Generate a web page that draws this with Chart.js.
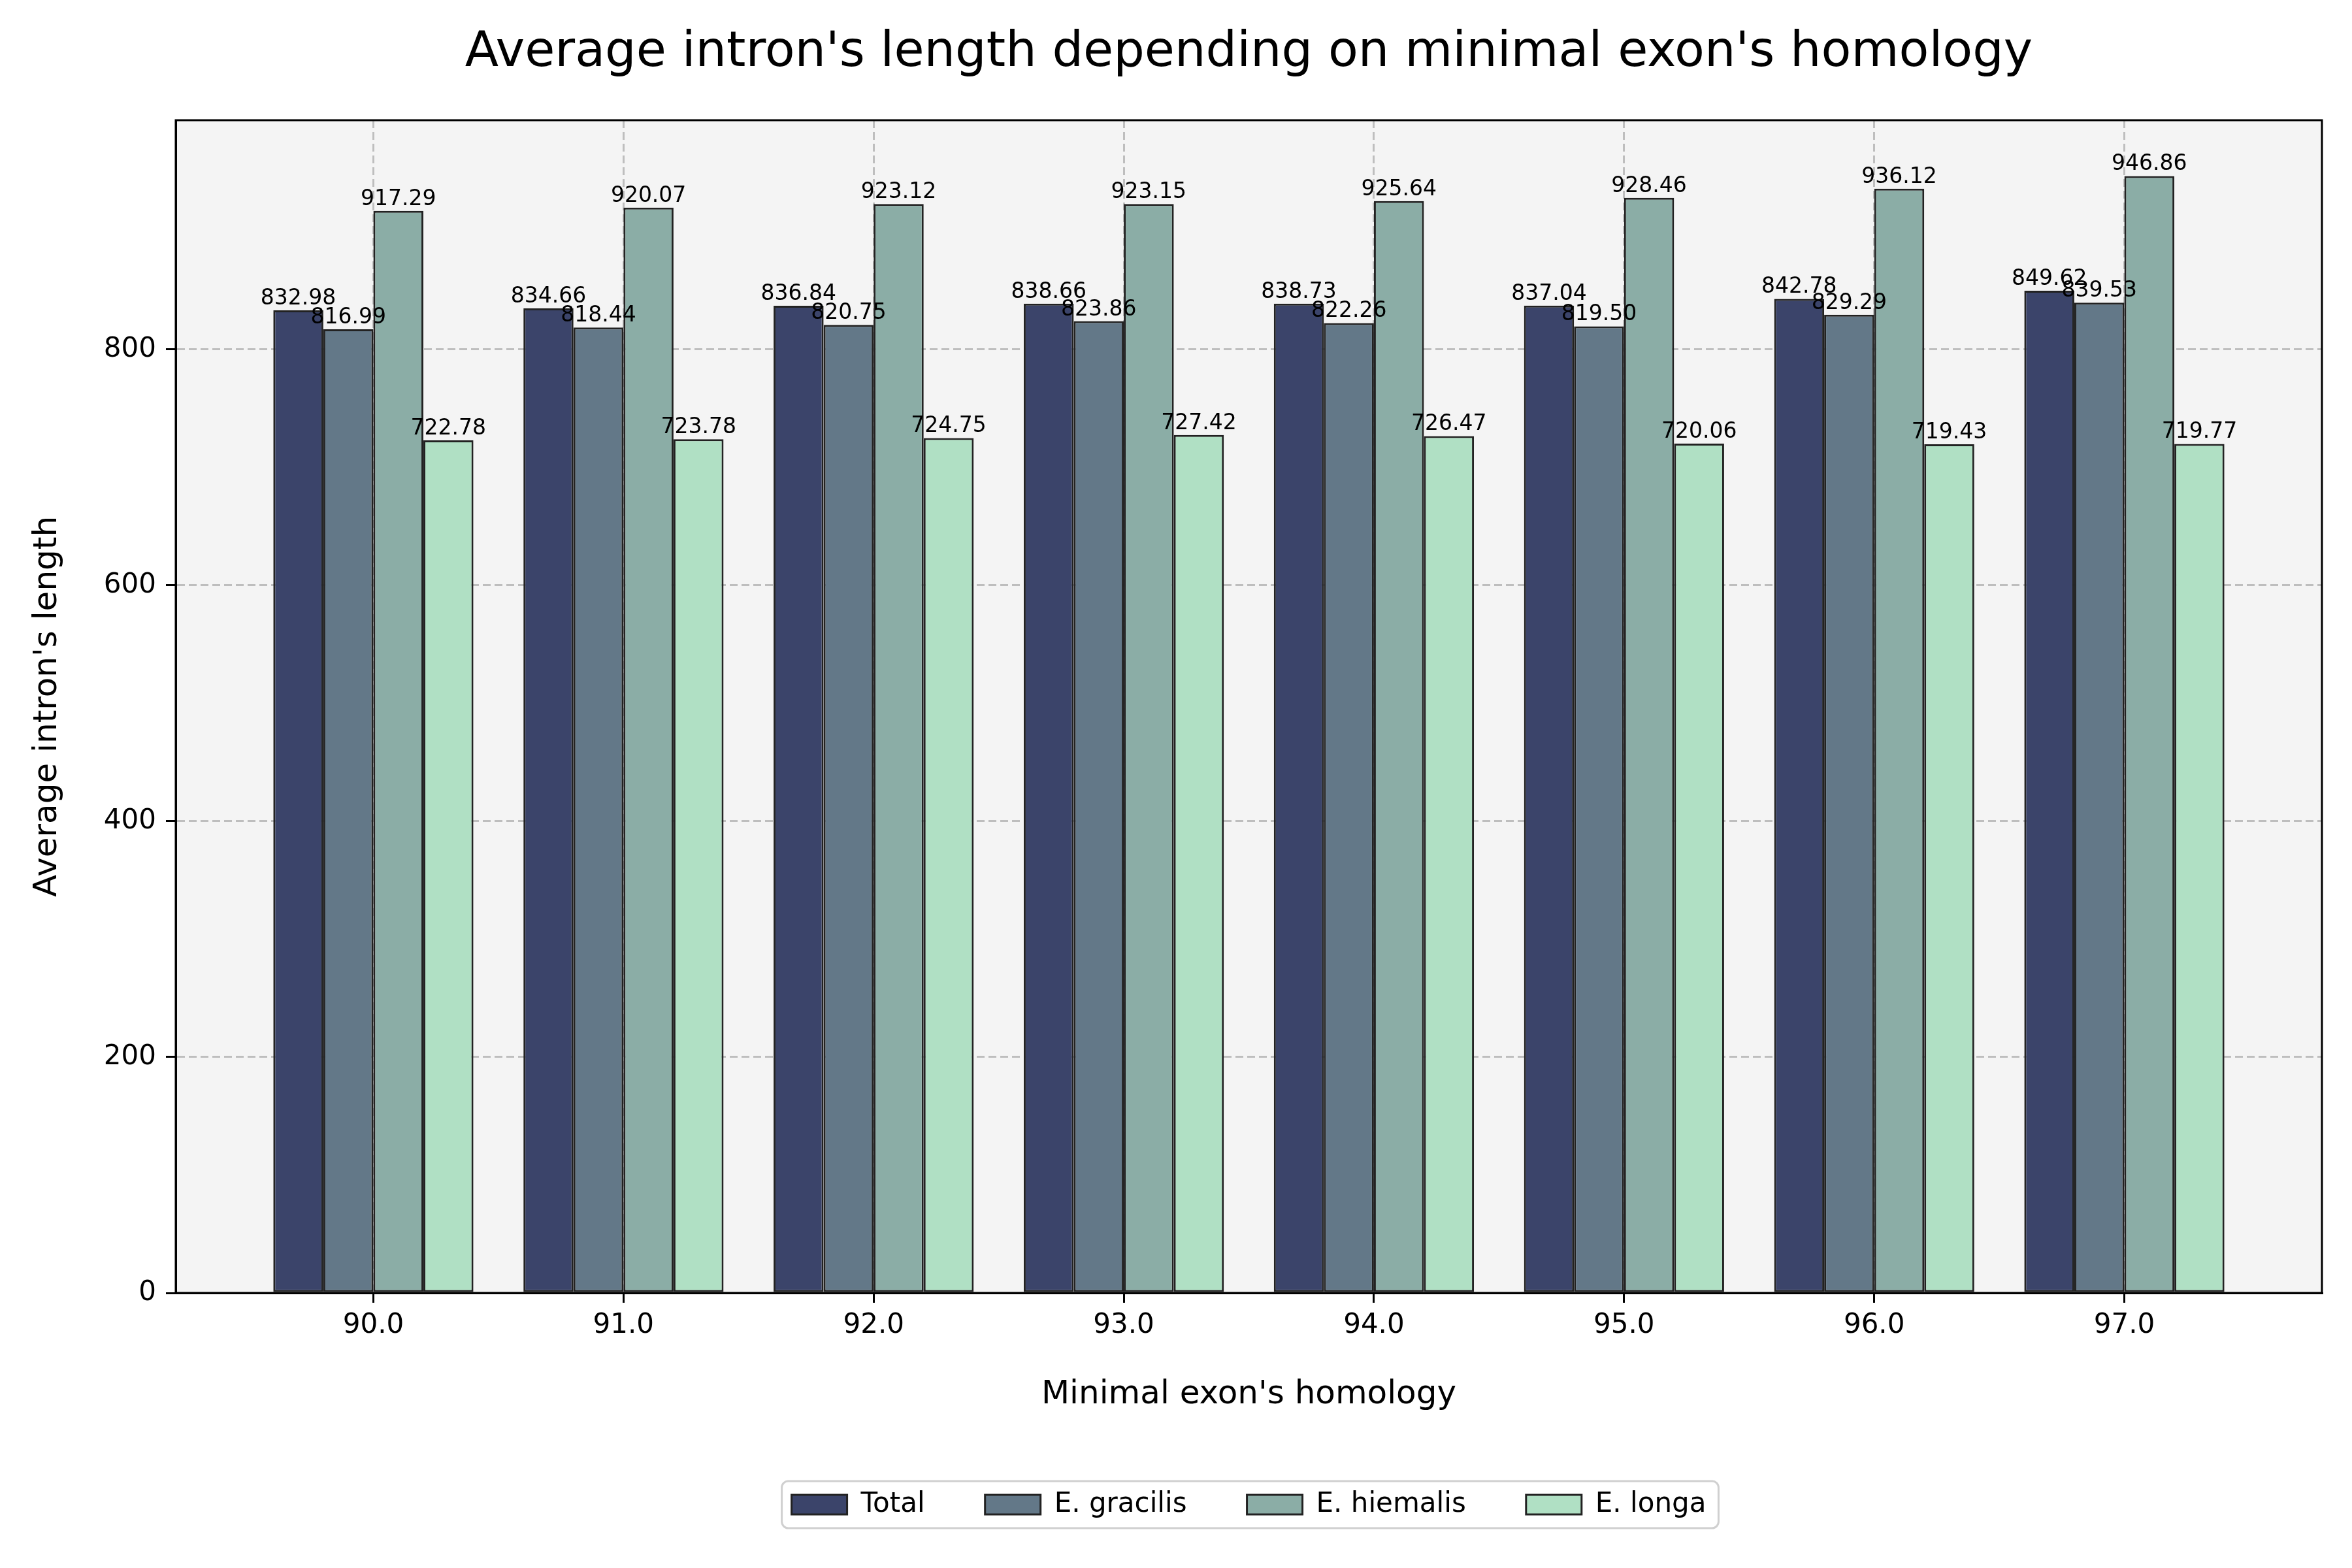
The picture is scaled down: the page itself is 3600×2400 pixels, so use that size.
<!DOCTYPE html>
<html>
<head>
<meta charset="utf-8">
<script src="https://cdn.jsdelivr.net/npm/chart.js@4.4.0/dist/chart.umd.min.js"></script>
<style>
  html, body { margin: 0; padding: 0; background: #ffffff; }
  #c { display: block; }
</style>
</head>
<body>
<canvas id="c" width="3600" height="2400" style="width:3600px;height:2400px"></canvas>
<script>
// ---- data ----
const categories = ["90.0", "91.0", "92.0", "93.0", "94.0", "95.0", "96.0", "97.0"];
const seriesNames = ["Total", "E. gracilis", "E. hiemalis", "E. longa"];
const totalValues    = [832.98, 834.66, 836.84, 838.66, 838.73, 837.04, 842.78, 849.62];
const gracilisValues = [816.99, 818.44, 820.75, 823.86, 822.26, 819.50, 829.29, 839.53];
const hiemalisValues = [917.29, 920.07, 923.12, 923.15, 925.64, 928.46, 936.12, 946.86];
const longaValues    = [722.78, 723.78, 724.75, 727.42, 726.47, 720.06, 719.43, 719.77];
const yTickValues = [0, 200, 400, 600, 800];

const seriesValues = [totalValues, gracilisValues, hiemalisValues, longaValues];
const seriesColors = ["#3b446a", "#637888", "#8badA6", "#b0e0c4"];

Chart.defaults.font.family = "'DejaVu Sans', sans-serif";
Chart.defaults.color = "#000";

const FONT = "'DejaVu Sans', sans-serif";

const framePlugin = {
  id: 'framePlugin',
  afterLayout(chart) {
    const ca = chart.chartArea;
    const cx = (ca.left + ca.right) / 2;
    [chart.titleBlock, chart.legend].forEach(b => {
      if (!b) return;
      const s = cx - (b.left + b.right) / 2;
      b.left += s; b.right += s;
    });
  },
  beforeDraw(chart) {
    const ctx = chart.ctx;
    const ca = chart.chartArea;
    ctx.save();
    ctx.fillStyle = '#ffffff';
    ctx.fillRect(0, 0, chart.width, chart.height);
    ctx.fillStyle = '#f4f4f4';
    ctx.fillRect(ca.left, ca.top, ca.right - ca.left, ca.bottom - ca.top);
    // legend frame
    const hb = chart.legend && chart.legend.legendHitBoxes;
    if (hb && hb.length) {
      const l = hb[0].left - 15;
      const last = hb[hb.length - 1];
      const r = last.left + last.width + 19;
      const cy = hb[0].top + hb[0].height / 2;
      const t = cy - 36, b = cy + 36;
      const rad = 10;
      ctx.beginPath();
      ctx.moveTo(l + rad, t);
      ctx.lineTo(r - rad, t);
      ctx.arcTo(r, t, r, t + rad, rad);
      ctx.lineTo(r, b - rad);
      ctx.arcTo(r, b, r - rad, b, rad);
      ctx.lineTo(l + rad, b);
      ctx.arcTo(l, b, l, b - rad, rad);
      ctx.lineTo(l, t + rad);
      ctx.arcTo(l, t, l + rad, t, rad);
      ctx.closePath();
      ctx.fillStyle = 'rgba(255,255,255,0.8)';
      ctx.fill();
      ctx.lineWidth = 3;
      ctx.strokeStyle = '#d0d0d0';
      ctx.stroke();
    }
    ctx.restore();
  },
  afterDraw(chart) {
    const ctx = chart.ctx;
    const ca = chart.chartArea;
    ctx.save();
    // value labels
    ctx.font = "33px " + FONT;
    ctx.fillStyle = '#000';
    ctx.textAlign = 'center';
    ctx.textBaseline = 'alphabetic';
    chart.data.datasets.forEach((ds, di) => {
      const meta = chart.getDatasetMeta(di);
      meta.data.forEach((el, i) => {
        const v = seriesValues[di][i];
        ctx.fillText(v.toFixed(2), el.x, el.y - 9);
      });
    });
    // frame
    ctx.lineWidth = 3;
    ctx.strokeStyle = '#000';
    ctx.strokeRect(ca.left, ca.top, ca.right - ca.left, ca.bottom - ca.top);
    ctx.restore();
  }
};

const datasets = seriesNames.map((name, k) => ({
  label: name,
  data: seriesValues[k].map((v, i) => ({ x: i, y: v })),
  backgroundColor: seriesColors[k],
  borderColor: '#222222',
  borderWidth: 3,
  borderSkipped: false,
  categoryPercentage: 0.8,
  barPercentage: 1.0
}));

new Chart(document.getElementById('c'), {
  type: 'bar',
  data: { datasets },
  options: {
    responsive: false,
    devicePixelRatio: 1,
    animation: false,
    layout: { padding: { left: 0, right: 46, top: 0, bottom: 66 } },
    plugins: {
      title: {
        display: true,
        text: "Average intron's length depending on minimal exon's homology",
        font: { size: 75, weight: 'normal', family: FONT },
        color: '#000',
        padding: { top: 37, bottom: 57 }
      },
      legend: {
        display: true,
        position: 'bottom',
        labels: {
          font: { size: 42, family: FONT },
          color: '#000',
          boxWidth: 85,
          boxHeight: 30,
          padding: 92
        }
      },
      tooltip: { enabled: false }
    },
    scales: {
      x: {
        type: 'linear',
        min: -0.79,
        max: 7.79,
        offset: false,
        z: 1,
        afterBuildTicks: (scale) => { scale.ticks = categories.map((c, i) => ({ value: i })); },
        afterFit: (scale) => { scale.height = 211; },
        ticks: {
          callback: (v) => categories[v],
          font: { size: 42, family: FONT },
          color: '#000',
          padding: 10,
          maxRotation: 0,
          autoSkip: false
        },
        grid: {
          offset: false,
          color: 'rgba(176,176,176,0.8)',
          lineWidth: 3,
          tickColor: '#000',
          tickWidth: 3,
          tickLength: 15
        },
        border: { display: true, color: '#000', width: 3, dash: [12, 6] },
        title: {
          display: true,
          text: "Minimal exon's homology",
          font: { size: 50, family: FONT },
          color: '#000',
          padding: { top: 0, bottom: 25 }
        }
      },
      y: {
        type: 'linear',
        min: 0,
        max: 994.2,
        z: 1,
        afterBuildTicks: (scale) => { scale.ticks = yTickValues.map(v => ({ value: v })); },
        afterFit: (scale) => { scale.width = 269; },
        ticks: {
          callback: (v) => String(v),
          font: { size: 42, family: FONT },
          color: '#000',
          padding: 15
        },
        grid: {
          color: 'rgba(176,176,176,0.8)',
          lineWidth: 3,
          tickColor: '#000',
          tickWidth: 3,
          tickLength: 15
        },
        border: { display: true, color: '#000', width: 3, dash: [12, 6] },
        title: {
          display: true,
          text: "Average intron's length",
          font: { size: 50, family: FONT },
          color: '#000',
          padding: { top: 43, bottom: 0 }
        }
      }
    }
  },
  plugins: [framePlugin]
});
</script>
</body>
</html>
